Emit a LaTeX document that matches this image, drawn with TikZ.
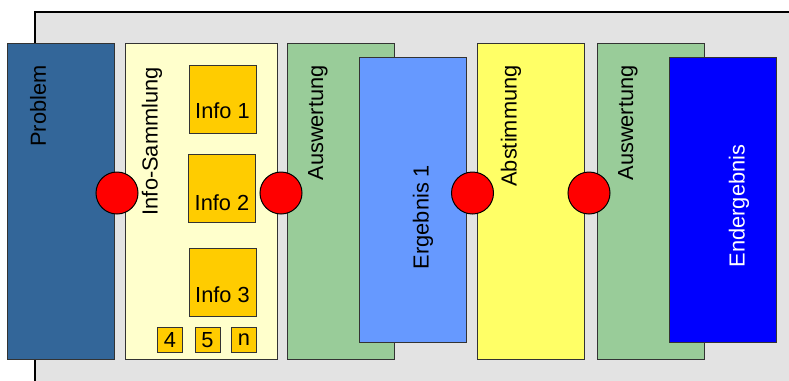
\documentclass[tikz,border=0pt]{standalone}
\usepackage{fontspec}
\setmainfont{Liberation Sans}
\usepackage{tikz}
\usetikzlibrary{positioning}
\definecolor{bgGray}{HTML}{E3E3E3}
\definecolor{probBlue}{HTML}{336699}
\definecolor{infoYellow}{HTML}{FFFFCC}
\definecolor{infoGold}{HTML}{FFCC00}
\definecolor{auswGreen}{HTML}{99CC99}
\definecolor{ergBlue}{HTML}{6699FF}
\definecolor{abstYellow}{HTML}{FFFF66}
\definecolor{endBlue}{HTML}{0000FF}
\begin{document}
\begin{tikzpicture}[x=0.5pt,y=-0.5pt,
    every node/.style={font=\fontsize{10.9}{13}\selectfont},
    phase/.style={draw=black!80,line width=0.5pt,minimum width=53.5pt,minimum height=158pt,inner sep=0pt},
    result/.style={phase,minimum height=142.5pt},
    infobox/.style={draw=black!80,line width=0.5pt,fill=infoGold,minimum width=33.5pt,minimum height=34pt,inner sep=0pt},
    smallbox/.style={draw=black!80,line width=0.5pt,fill=infoGold,minimum size=12.5pt,inner sep=0pt},
    vlabel/.style={rotate=90,anchor=east,inner sep=0pt},
    joint/.style={circle,draw=black,line width=0.5pt,fill=red,minimum size=21pt,inner sep=0pt}]
    \useasboundingbox (0,0) rectangle (789,381);
    % background
    \fill[bgGray] (35,12) rectangle (789,381);
    \draw[line width=0.6pt] (35,381) -- (35,12) -- (789,12);

    % phases
    \node[phase,fill=probBlue] at (60.5,201) (problem) {};
    \node[phase,fill=infoYellow,minimum width=76pt] at (201,201) (sammlung) {};
    \node[phase,fill=auswGreen] at (340.5,201) (ausw1) {};
    \node[result,fill=ergBlue] at (412.5,199.5) (erg1) {};
    \node[phase,fill=abstYellow] at (530.5,201) (abst) {};
    \node[phase,fill=auswGreen] at (650.5,201) (ausw2) {};
    \node[result,fill=endBlue] at (722.5,199.5) (enderg) {};

    % phase labels
    \node[vlabel] at (38,65) (problemlbl) {Problem};
    \node[vlabel] at (152,67) (sammlunglbl) {Info-Sammlung};
    \node[vlabel] at (318,65) (ausw1lbl) {Auswertung};
    \node[rotate=90,inner sep=0pt] at (423,217) (erg1lbl) {Ergebnis 1};
    \node[vlabel] at (511,65) (abstlbl) {Abstimmung};
    \node[vlabel] at (628,65) (ausw2lbl) {Auswertung};
    \node[rotate=90,inner sep=0pt,text=white] at (739,206) (endergbl) {Endergebnis};

    % infos
    \node[infobox,label={[yshift=-6pt]center:Info 1}] at (222.5,99) (info1) {};
    \node[infobox,label={[yshift=-7pt]center:Info 2}] at (222,188.5) (info2) {};
    \node[infobox,label={[yshift=-6.5pt]center:Info 3}] at (222.5,282) (info3) {};
    \node[smallbox] at (170,340) (info4) {4};
    \node[smallbox] at (207.5,340) (info5) {5};
    \node[smallbox] at (244,340) (infon) {n};

    % joints
    \node[joint] at (117,193) (j1) {};
    \node[joint] at (281,193) (j2) {};
    \node[joint] at (472.5,193) (j3) {};
    \node[joint] at (589,193) (j4) {};
\end{tikzpicture}
\end{document}
